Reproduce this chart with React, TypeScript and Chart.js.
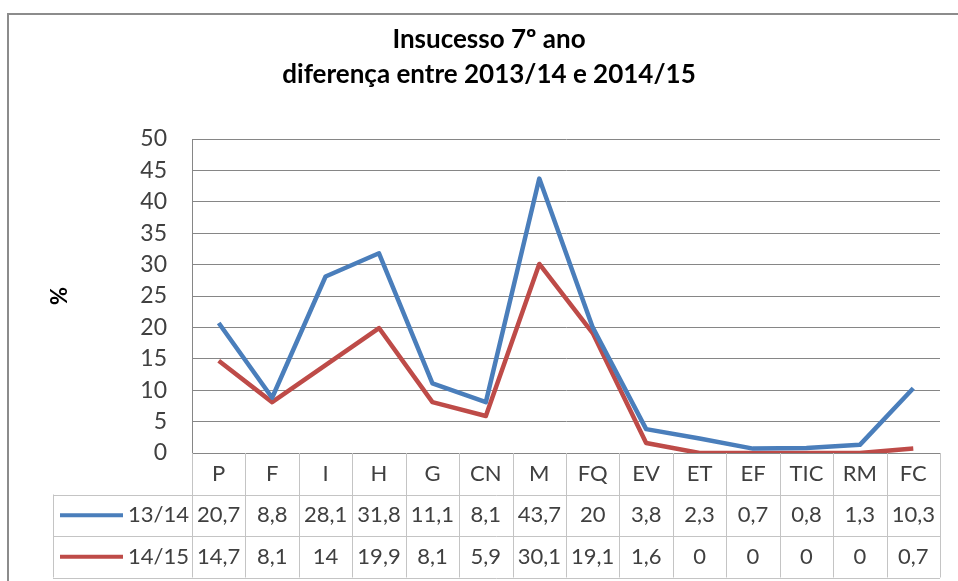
import React, { useEffect, useRef } from "react";
import { Chart, registerables } from "chart.js";

Chart.register(...registerables);

const titleLines = ["Insucesso 7º ano", "diferença entre 2013/14 e 2014/15"];
const categories = ["P", "F", "I", "H", "G", "CN", "M", "FQ", "EV", "ET", "EF", "TIC", "RM", "FC"];
const seriesNames = ["13/14", "14/15"];
const values1314 = [20.7, 8.8, 28.1, 31.8, 11.1, 8.1, 43.7, 20, 3.8, 2.3, 0.7, 0.8, 1.3, 10.3];
const values1415 = [14.7, 8.1, 14, 19.9, 8.1, 5.9, 30.1, 19.1, 1.6, 0, 0, 0, 0, 0.7];
const seriesColors = ["#4A7EBB", "#BE4B48"];
const yAxisTitle = "%";
const yMin = 0;
const yMax = 50;
const yStep = 5;

const FONT = "Lato, 'Open Sans', sans-serif";

const fmt = (v: number) => String(v).replace(".", ",");

const decorPlugin = {
  id: "decor",
  beforeDraw(chart: any) {
    const ctx = chart.ctx;
    ctx.save();
    ctx.fillStyle = "#ffffff";
    ctx.fillRect(0, 0, chart.width, chart.height);
    ctx.strokeStyle = "#8c8c8c";
    ctx.lineWidth = 2;
    ctx.strokeRect(8, 14, 1000, 1000);
    ctx.fillStyle = "#000000";
    ctx.font = `bold 26px ${FONT}`;
    ctx.textAlign = "center";
    ctx.textBaseline = "middle";
    ctx.fillText(titleLines[0], 489, 40);
    ctx.fillText(titleLines[1], 489, 75);
    ctx.restore();
  },
  afterDraw(chart: any) {
    const ctx = chart.ctx;
    const { left, right, bottom } = chart.chartArea;
    const xs = chart.scales.x;
    const n = categories.length;
    const w = xs.getPixelForValue(1) - xs.getPixelForValue(0);
    const rowH = 41.5;
    const legendLeft = left - 139;
    const bounds: number[] = [];
    for (let i = 0; i < n; i++) bounds.push(xs.getPixelForValue(i) - w / 2);
    bounds.push(right);
    const datasets = chart.data.datasets;

    ctx.save();
    ctx.strokeStyle = "#c4c4c4";
    ctx.lineWidth = 1;
    bounds.forEach((b) => {
      const x = Math.round(b) + 0.5;
      ctx.beginPath();
      ctx.moveTo(x, bottom);
      ctx.lineTo(x, bottom + rowH * (1 + datasets.length));
      ctx.stroke();
    });
    ctx.beginPath();
    ctx.moveTo(legendLeft + 0.5, bottom + rowH);
    ctx.lineTo(legendLeft + 0.5, bottom + rowH * (1 + datasets.length));
    ctx.stroke();
    for (let r = 1; r <= datasets.length + 1; r++) {
      const y = Math.round(bottom + rowH * r) + 0.5;
      ctx.beginPath();
      ctx.moveTo(legendLeft, y);
      ctx.lineTo(right, y);
      ctx.stroke();
    }

    ctx.fillStyle = "#404040";
    ctx.font = `22px ${FONT}`;
    ctx.textAlign = "center";
    ctx.textBaseline = "middle";
    categories.forEach((c, i) => {
      ctx.fillText(c, xs.getPixelForValue(i), bottom + rowH / 2);
    });
    datasets.forEach((ds: any, r: number) => {
      const cy = bottom + rowH * (r + 1.5);
      ds.data.forEach((v: number, i: number) => {
        ctx.fillText(fmt(v), xs.getPixelForValue(i), cy);
      });
      ctx.strokeStyle = ds.borderColor;
      ctx.lineWidth = 4;
      ctx.beginPath();
      ctx.moveTo(legendLeft + 7, cy);
      ctx.lineTo(legendLeft + 70, cy);
      ctx.stroke();
      ctx.textAlign = "right";
      ctx.fillText(ds.label, left - 3, cy);
      ctx.textAlign = "center";
    });
    ctx.restore();
  },
};

export default function App() {
  const ref = useRef<HTMLCanvasElement | null>(null);
  useEffect(() => {
    if (!ref.current) return;
    const chart = new Chart(ref.current, {
      type: "line",
      data: {
        labels: categories,
        datasets: [
          {
            label: seriesNames[0],
            data: values1314,
            borderColor: seriesColors[0],
            backgroundColor: seriesColors[0],
            borderWidth: 4.5,
            pointRadius: 0,
            borderJoinStyle: "round",
            tension: 0,
          },
          {
            label: seriesNames[1],
            data: values1415,
            borderColor: seriesColors[1],
            backgroundColor: seriesColors[1],
            borderWidth: 4.5,
            pointRadius: 0,
            borderJoinStyle: "round",
            tension: 0,
          },
        ],
      },
      options: {
        responsive: false,
        animation: false,
        layout: { padding: { left: 0, right: 18, top: 139, bottom: 128 } },
        plugins: {
          legend: { display: false },
          title: { display: false },
          tooltip: { enabled: false },
        },
        scales: {
          x: {
            display: false,
            offset: true,
          },
          y: {
            min: yMin,
            max: yMax,
            afterFit: (scale: any) => {
              scale.width = 192;
            },
            ticks: {
              stepSize: yStep,
              padding: 25,
              color: "#404040",
              font: { family: FONT, size: 23 },
            },
            grid: { color: "#868686", lineWidth: 1, drawTicks: false },
            border: { display: true, color: "#868686" },
            title: {
              display: true,
              text: yAxisTitle,
              color: "#000000",
              font: { family: FONT, size: 22, weight: "bold" },
              padding: { top: 47, bottom: 0 },
            },
          },
        },
      },
      plugins: [decorPlugin],
    });
    return () => chart.destroy();
  }, []);
  return (
    <div style={{ position: "fixed", left: 0, top: 0, width: 958, height: 581 }}>
      <canvas ref={ref} width={958} height={581} />
    </div>
  );
}
